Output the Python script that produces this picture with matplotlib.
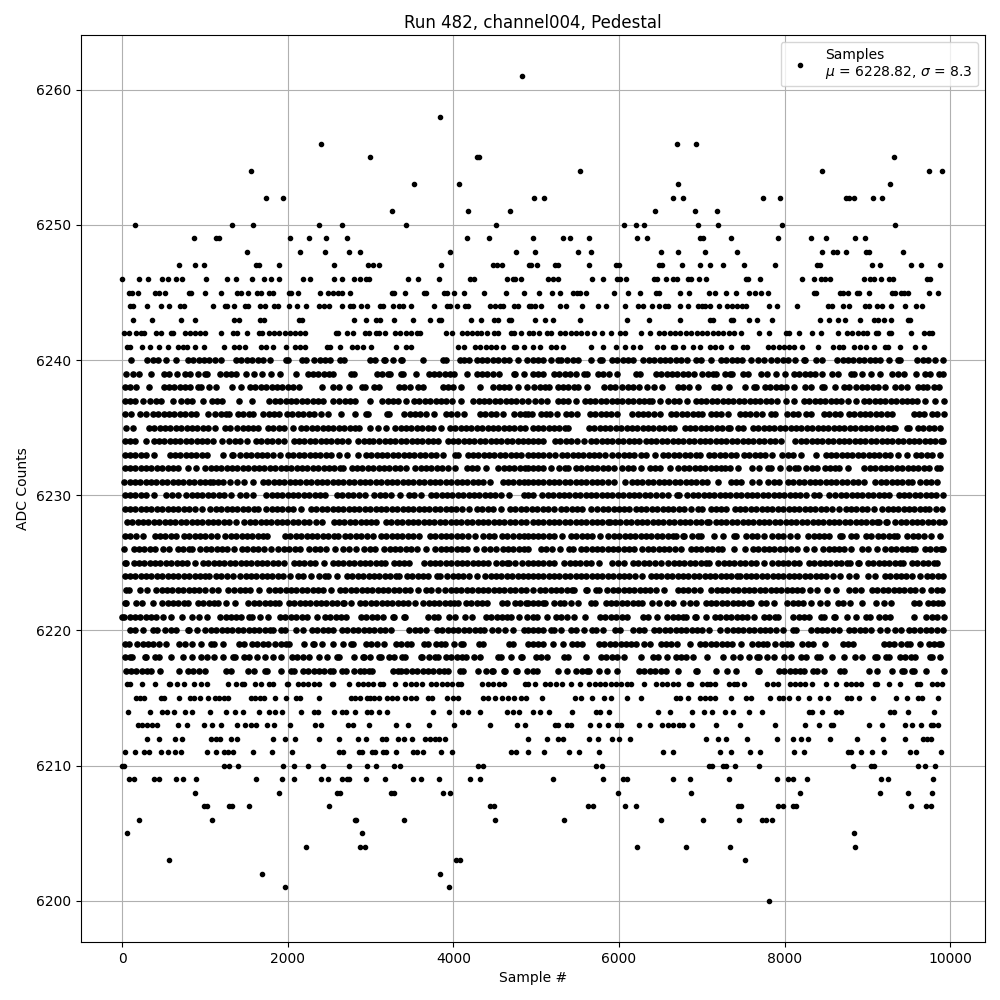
import matplotlib

matplotlib.use("Agg")
import matplotlib.pyplot as plt

# sample numbers, one list per ADC level
s6261 = [4832]
s6258 = [3843]
s6256 = [2396, 6702, 6932]
s6255 = [2999, 4281, 4309, 9319]
s6254 = [1552, 5533, 8456, 9745, 9898]
s6253 = [3529, 4072, 6706, 9271]
s6252 = [1733, 1938, 4978, 5099, 6654, 6774, 7739, 7944, 8740, 8776, 8837, 9066, 9175]
s6251 = [3256, 4181, 4687, 6437, 6919, 7185]
s6250 = [153, 1323, 1576, 2372, 2661, 3433, 4518, 6063, 6208, 6304, 6955, 7197, 7969, 9331]
s6249 = [864, 1130, 1166, 2022, 2251, 2456, 2721, 4169, 4434, 4966, 5327, 5412, 5641, 6219, 6340, 6980, 7016, 7354,
         7921, 8318, 8499, 8850, 8970]
s6248 = [1503, 2143, 2444, 2734, 2878, 3964, 4760, 4990, 5509, 5665, 6509, 6714, 7040, 7426, 8451, 8584, 8632, 8740,
         8982, 9018, 9428]
s6247 = [683, 876, 985, 1612, 1648, 1889, 2553, 2963, 3035, 3107, 3855, 4482, 4530, 4591, 4918, 4941, 5014, 5231, 5267,
         5641, 5966, 6002, 6486, 6522, 6762, 6980, 7100, 7257, 7510, 7884, 8391, 8427, 9054, 9150, 9524, 9645, 9874]
s6246 = [0, 201, 310, 478, 551, 647, 720, 1009, 1262, 1371, 1564, 1709, 1793, 1889, 2179, 2263, 2553, 2661, 2794, 2878,
         2939, 2987, 3457, 3578, 3831, 4205, 4253, 4652, 4724, 4748, 4820, 5146, 5207, 5267, 5677, 5809, 5973, 6009,
         6082, 6424, 6461, 6570, 6654, 6702, 6835, 6871, 6968, 7052, 7535, 7559, 7703, 8210, 8355, 8439, 8487, 8547,
         8957, 9030, 9078, 9162, 9259, 9307, 9718, 9754]
s6245 = [80, 117, 189, 394, 442, 515, 804, 828, 997, 1190, 1383, 1431, 1516, 1624, 1672, 1769, 1817, 2010, 2034, 2119,
         2384, 2492, 2541, 2601, 2661, 2746, 3264, 3288, 3421, 3650, 3674, 3891, 3927, 4012, 4133, 4374, 4639, 4856,
         5038, 5195, 5292, 5448, 5496, 5533, 5605, 5942, 6111, 6256, 6449, 6485, 6738, 6847, 7088, 7160, 7293, 7414,
         7571, 7643, 7715, 7800, 8355, 8379, 8668, 8704, 8765, 8873, 8897, 9018, 9295, 9331, 9404, 9440, 9488, 9745, 9850]
s6244 = [92, 129, 297, 466, 563, 695, 744, 1093, 1238, 1262, 1347, 1479, 1516, 1660, 1721, 1829, 1877, 2010, 2106, 2215,
         2372, 2432, 2504, 2649, 2746, 2782, 2890, 2951, 3119, 3156, 3276, 3349, 3397, 3493, 3771, 3927, 3964, 4048, 4145,
         4181, 4446, 4498, 4559, 4603, 4736, 4784, 4916, 4941, 4990, 5062, 5292, 5364, 5549, 5749, 5846, 6075, 6232, 6292,
         6401, 6485, 6558, 6594, 6738, 6835, 6955, 7004, 7040, 7100, 7209, 7305, 7366, 7426, 7486, 7535, 7812, 7908, 8149,
         8523, 8571, 8704, 8776, 8970, 9018, 9114, 9175, 9283, 9452, 9585, 9657]
s6243 = [129, 358, 708, 876, 1347, 1407, 1660, 1709, 2131, 2167, 2794, 2939, 3071, 3119, 3288, 3517, 3723, 3831, 3855,
         4217, 4338, 4494, 4542, 4675, 4699, 4990, 5110, 5207, 5533, 6099, 6365, 6738, 7100, 7136, 7354, 7378, 7571, 7667,
         7848, 8427, 8535, 8644, 8728, 8909, 9078, 9126, 9199, 9283, 9488, 9517]
s6242 = [25, 85, 170, 225, 260, 410, 470, 590, 620, 760, 820, 880, 945, 1005, 1196, 1340, 1390, 1510, 1654, 1695, 1775,
         1840, 1900, 1965, 2030, 2090, 2150, 2210, 2583, 2610, 2716, 2790, 2927, 2975, 3071, 3107, 3180, 3294, 3360, 3425,
         3490, 3555, 3600, 3909, 3985, 4102, 4165, 4225, 4290, 4335, 4410, 4488, 4540, 4693, 4735, 4814, 4915, 4955, 5035,
         5135, 5180, 5285, 5350, 5415, 5480, 5545, 5610, 5700, 5800, 5900, 6008, 6070, 6268, 6370, 6483, 6545, 6610, 6675,
         6740, 6805, 6870, 6935, 7000, 7065, 7130, 7195, 7260, 7325, 7390, 7467, 7690, 7812, 8010, 8050, 8172, 8334, 8439,
         8638, 8754, 8815, 8880, 8945, 8996, 9108, 9132, 9265, 9289, 9530, 9687, 9745, 9783]
s6241 = [60, 90, 237, 334, 442, 551, 677, 740, 786, 882, 985, 1226, 1352, 1415, 1485, 1678, 1740, 1823, 1974, 2088, 2150,
         2209, 2474, 2511, 2625, 2776, 2840, 2905, 3005, 3312, 3427, 3487, 4054, 4127, 4259, 4325, 4390, 4455, 4520, 4597,
         4730, 4754, 4850, 4955, 5043, 5176, 5240, 5329, 5665, 5809, 5966, 6075, 6171, 6256, 6454, 6527, 6648, 6672, 6774,
         6889, 6974, 7094, 7160, 7227, 7347, 7496, 7541, 7793, 7860, 7925, 7990, 8055, 8111, 8210, 8403, 8589, 8650, 8698,
         8842, 8910, 8976, 9078, 9205, 9241, 9397, 9572, 9687]
s6240 = [105, 303, 370, 435, 533, 655, 798, 860, 925, 990, 1055, 1120, 1196, 1377, 1440, 1505, 1570, 1635, 1700, 1783,
         1980, 2000, 2173, 2221, 2322, 2390, 2455, 2507, 2631, 2684, 2993, 3053, 3166, 3174, 3268, 3367, 3375, 3628, 3877,
         3910, 4078, 4131, 4193, 4279, 4345, 4410, 4475, 4540, 4605, 4670, 4774, 4894, 4955, 5020, 5085, 5177, 5257, 5297,
         5377, 5445, 5510, 5659, 5767, 5799, 5912, 5980, 6045, 6110, 6174, 6293, 6360, 6425, 6490, 6555, 6620, 6685, 6750,
         6816, 6925, 6990, 7106, 7227, 7295, 7360, 7425, 7490, 7590, 7682, 7745, 7830, 7910, 7975, 8040, 8130, 8230, 8240,
         8372, 8453, 8634, 8700, 8765, 8830, 8895, 8960, 9025, 9090, 9155, 9257, 9370, 9390, 9598, 9665, 9730, 9820, 9910]
s6239 = [50, 130, 199, 350, 508, 570, 665, 758, 825, 915, 995, 1027, 1184, 1250, 1315, 1380, 1498, 1590, 1687, 1799, 1912,
         2094, 2241, 2305, 2370, 2435, 2500, 2551, 2764, 2804, 3073, 3140, 3205, 3238, 3367, 3387, 3550, 3700, 3765, 3830,
         3895, 3960, 4010, 4169, 4279, 4345, 4410, 4475, 4545, 4734, 4742, 4854, 4955, 5020, 5087, 5215, 5280, 5345, 5410,
         5477, 5577, 5618, 5742, 5810, 5880, 5979, 6201, 6254, 6442, 6510, 6575, 6640, 6705, 6770, 6835, 6905, 7005, 7070,
         7135, 7167, 7279, 7345, 7368, 7496, 7557, 7710, 7790, 7892, 8000, 8110, 8175, 8240, 8305, 8370, 8453, 8573, 8642,
         8795, 8835, 8933, 9037, 9154, 9297, 9365, 9438, 9580, 9691, 9752, 9868, 9911]
s6238 = [30, 95, 171, 322, 500, 565, 630, 695, 760, 814, 914, 955, 1055, 1136, 1328, 1437, 1546, 1610, 1675, 1740, 1805,
         1870, 1935, 2000, 2065, 2141, 2412, 2543, 2623, 2734, 2894, 2935, 3045, 3106, 3338, 3405, 3470, 3568, 3638, 3869,
         3935, 4000, 4091, 4321, 4480, 4545, 4610, 4675, 4782, 4884, 4975, 5040, 5105, 5157, 5257, 5322, 5387, 5452, 5510,
         5610, 5819, 5885, 5949, 6039, 6105, 6170, 6235, 6334, 6422, 6523, 6713, 6774, 6847, 6948, 7144, 7208, 7328, 7518,
         7628, 7649, 7758, 7825, 7890, 7955, 8020, 8111, 8243, 8312, 8453, 8473, 8613, 8714, 8776, 8862, 8930, 8995, 9060,
         9125, 9216, 9335, 9400, 9477, 9610, 9675, 9719, 9807, 9859]
s6237 = [30, 95, 160, 252, 340, 405, 470, 613, 713, 780, 845, 975, 1087, 1150, 1204, 1407, 1568, 1779, 1845, 1910, 1975,
         2040, 2105, 2170, 2235, 2300, 2365, 2430, 2543, 2623, 2690, 2755, 2812, 2995, 3137, 3205, 3270, 3335, 3427, 3527,
         3590, 3655, 3720, 3785, 3850, 3915, 3980, 4091, 4239, 4305, 4370, 4435, 4500, 4565, 4630, 4695, 4760, 4825, 4895,
         4987, 5055, 5136, 5257, 5322, 5387, 5477, 5585, 5650, 5715, 5780, 5845, 5910, 5975, 6040, 6105, 6170, 6235, 6300,
         6365, 6402, 6500, 6595, 6660, 6725, 6825, 6925, 6990, 7055, 7120, 7185, 7250, 7315, 7380, 7445, 7510, 7575, 7640,
         7705, 7770, 7835, 7910, 8010, 8110, 8230, 8295, 8360, 8425, 8490, 8555, 8620, 8685, 8762, 8865, 8955, 9020,
         9085, 9150, 9215, 9280, 9345, 9410, 9475, 9540, 9598, 9696, 9809, 9920]
s6236 = [30, 111, 219, 292, 372, 437, 502, 567, 632, 697, 762, 827, 892, 1035, 1127, 1192, 1257, 1289, 1397, 1462, 1527,
         1578, 1706, 1771, 1836, 1900, 1992, 2057, 2122, 2187, 2252, 2317, 2402, 2492, 2641, 2806, 2944, 2965, 3198, 3226,
         3407, 3472, 3537, 3602, 3667, 3769, 3909, 3974, 4039, 4131, 4319, 4384, 4449, 4514, 4593, 4734, 4799, 4864, 4895,
         4945, 5055, 5120, 5169, 5254, 5356, 5421, 5497, 5646, 5711, 5776, 5841, 5906, 5979, 6159, 6224, 6289, 6354, 6419,
         6494, 6627, 6692, 6757, 6822, 6887, 6952, 7006, 7106, 7171, 7236, 7320, 7456, 7521, 7586, 7651, 7730, 7830, 7878,
         8030, 8095, 8160, 8252, 8322, 8473, 8538, 8603, 8666, 8774, 8839, 8904, 8969, 9034, 9099, 9164, 9229, 9297, 9558,
         9623, 9679, 9779, 9844, 9920]
s6235 = [42, 131, 323, 388, 453, 518, 583, 648, 713, 778, 843, 908, 973, 1038, 1116, 1244, 1297, 1389, 1454, 1519, 1584,
         1638, 1759, 1824, 1889, 1954, 2060, 2161, 2226, 2291, 2356, 2421, 2486, 2551, 2616, 2681, 2746, 2811, 2864, 2993,
         3086, 3186, 3298, 3363, 3428, 3493, 3558, 3623, 3688, 3749, 3849, 3957, 4022, 4087, 4152, 4217, 4282, 4347, 4412,
         4477, 4542, 4607, 4672, 4737, 4802, 4867, 4955, 5020, 5085, 5150, 5215, 5280, 5345, 5385, 5635, 5700, 5765, 5830,
         5895, 5960, 6025, 6090, 6155, 6220, 6285, 6350, 6415, 6480, 6545, 6610, 6663, 6791, 6856, 6921, 6986, 7051, 7116,
         7181, 7246, 7311, 7345, 7440, 7500, 7616, 7681, 7746, 7811, 7876, 7941, 8006, 8071, 8136, 8201, 8266, 8331, 8396,
         8461, 8526, 8591, 8656, 8721, 8786, 8851, 8916, 8981, 9046, 9111, 9176, 9241, 9306, 9337, 9477, 9498, 9610, 9675,
         9740, 9805, 9880]
s6234 = [30, 95, 160, 284, 380, 445, 510, 575, 640, 705, 770, 835, 900, 965, 1030, 1095, 1204, 1296, 1361, 1426, 1506,
         1618, 1683, 1748, 1813, 1878, 1960, 2072, 2137, 2202, 2267, 2332, 2397, 2462, 2527, 2592, 2657, 2724, 2852, 2917,
         2982, 3025, 3105, 3170, 3235, 3300, 3365, 3430, 3495, 3560, 3625, 3690, 3755, 3817, 3929, 3994, 4059, 4124, 4189,
         4254, 4319, 4384, 4449, 4514, 4579, 4644, 4709, 4774, 4839, 4895, 4955, 5020, 5087, 5227, 5292, 5357, 5422, 5487,
         5571, 5659, 5724, 5789, 5854, 5919, 5984, 6049, 6114, 6179, 6242, 6322, 6387, 6452, 6517, 6582, 6647, 6712, 6777,
         6842, 6907, 6972, 7037, 7102, 7167, 7232, 7297, 7362, 7427, 7492, 7557, 7622, 7687, 7752, 7817, 7882, 7950, 8130,
         8195, 8260, 8325, 8390, 8455, 8520, 8585, 8650, 8715, 8780, 8845, 8910, 8975, 9040, 9105, 9170, 9235, 9300, 9365,
         9430, 9495, 9560, 9625, 9690, 9755, 9820, 9885, 9911]
s6233 = [30, 95, 160, 225, 290, 386, 573, 638, 703, 768, 833, 898, 963, 1028, 1216, 1324, 1337, 1429, 1494, 1559, 1624,
         1689, 1754, 1819, 1912, 2004, 2069, 2134, 2199, 2264, 2329, 2394, 2459, 2524, 2623, 2716, 2844, 2944, 3009, 3074,
         3139, 3204, 3269, 3334, 3399, 3464, 3529, 3594, 3659, 3724, 3789, 3869, 4022, 4059, 4171, 4236, 4301, 4366, 4431,
         4496, 4561, 4626, 4691, 4756, 4821, 4895, 4955, 5020, 5085, 5150, 5224, 5308, 5373, 5438, 5503, 5568, 5633, 5698,
         5763, 5828, 5920, 5991, 6056, 6121, 6186, 6262, 6330, 6431, 6531, 6596, 6661, 6726, 6791, 6856, 6925, 6975, 7086,
         7151, 7216, 7281, 7346, 7408, 7508, 7573, 7638, 7703, 7768, 7850, 7970, 8035, 8100, 8200, 8374, 8493, 8558, 8623,
         8688, 8753, 8818, 8883, 8948, 9013, 9078, 9143, 9208, 9277, 9370, 9478, 9586, 9651, 9716, 9781, 9880]
s6232 = [30, 95, 160, 225, 290, 355, 420, 485, 550, 615, 673, 794, 895, 1003, 1068, 1133, 1198, 1263, 1328, 1393, 1458,
         1523, 1588, 1653, 1718, 1783, 1848, 1913, 1978, 2043, 2108, 2173, 2238, 2303, 2368, 2433, 2498, 2563, 2628, 2672,
         2772, 2837, 2902, 2967, 3032, 3097, 3162, 3227, 3292, 3357, 3427, 3540, 3605, 3670, 3735, 3800, 3865, 3930, 4018,
         4159, 4224, 4289, 4392, 4541, 4606, 4671, 4736, 4801, 4866, 4895, 4955, 5020, 5085, 5177, 5277, 5342, 5378, 5478,
         5543, 5608, 5673, 5738, 5803, 5868, 5940, 6039, 6104, 6169, 6262, 6370, 6435, 6500, 6615, 6716, 6781, 6846, 6911,
         6976, 7041, 7106, 7171, 7236, 7275, 7345, 7440, 7600, 7689, 7801, 7830, 7938, 8050, 8130, 8159, 8259, 8324, 8385,
         8485, 8550, 8613, 8654, 8765, 8963, 9028, 9093, 9158, 9223, 9288, 9353, 9418, 9483, 9548, 9613, 9678, 9739, 9839,
         9880]
s6231 = [20, 90, 155, 220, 285, 350, 415, 480, 545, 610, 675, 740, 805, 870, 935, 1000, 1065, 1096, 1156, 1221, 1297,
         1389, 1477, 1578, 1698, 1763, 1828, 1893, 1958, 2023, 2088, 2153, 2218, 2283, 2348, 2413, 2478, 2543, 2608, 2673,
         2738, 2803, 2868, 2933, 2998, 3063, 3128, 3193, 3258, 3323, 3388, 3453, 3518, 3583, 3648, 3713, 3778, 3843, 3908,
         3973, 4038, 4103, 4168, 4233, 4298, 4363, 4444, 4593, 4658, 4723, 4788, 4853, 4895, 4955, 5020, 5085, 5150, 5215,
         5280, 5345, 5410, 5475, 5540, 5605, 5670, 5735, 5800, 5865, 5940, 6071, 6153, 6218, 6283, 6348, 6413, 6478, 6543,
         6608, 6673, 6738, 6803, 6868, 6933, 6998, 7065, 7196, 7346, 7411, 7467, 7600, 7689, 7801, 7866, 7930, 8040, 8105,
         8170, 8235, 8300, 8365, 8430, 8495, 8560, 8625, 8690, 8755, 8820, 8885, 8955, 9095, 9160, 9225, 9290, 9355, 9420,
         9485, 9538, 9638, 9703, 9768, 9840]
s6230 = [30, 95, 160, 225, 290, 384, 533, 601, 671, 774, 839, 904, 969, 1034, 1099, 1164, 1229, 1309, 1425, 1490, 1578,
         1739, 1804, 1869, 1934, 1999, 2064, 2129, 2194, 2259, 2324, 2389, 2450, 2595, 2660, 2725, 2790, 2855, 2933, 3045,
         3110, 3175, 3246, 3357, 3459, 3524, 3608, 3728, 3793, 3858, 3923, 3988, 4053, 4118, 4183, 4248, 4313, 4378, 4443,
         4508, 4573, 4674, 4854, 4895, 4966, 5075, 5140, 5205, 5270, 5335, 5400, 5465, 5530, 5595, 5660, 5725, 5790, 5855,
         5920, 5985, 6050, 6115, 6180, 6245, 6310, 6375, 6440, 6523, 6593, 6696, 6725, 6825, 6890, 6955, 7020, 7085, 7150,
         7215, 7280, 7345, 7410, 7475, 7540, 7605, 7670, 7735, 7800, 7865, 7930, 7995, 8060, 8125, 8190, 8252, 8352, 8417,
         8533, 8613, 8678, 8743, 8808, 8873, 8938, 9003, 9068, 9133, 9198, 9257, 9376, 9441, 9506, 9571, 9636, 9701, 9766,
         9831, 9911]
s6229 = [30, 95, 160, 225, 290, 355, 420, 485, 550, 615, 680, 745, 810, 875, 960, 1067, 1132, 1197, 1262, 1327, 1392, 1457,
         1522, 1587, 1638, 1739, 1804, 1869, 1934, 1999, 2064, 2161, 2281, 2346, 2411, 2476, 2541, 2606, 2671, 2736, 2801,
         2866, 2931, 2996, 3061, 3126, 3191, 3256, 3321, 3386, 3451, 3516, 3581, 3646, 3711, 3776, 3841, 3906, 3971, 4036,
         4101, 4191, 4283, 4348, 4413, 4478, 4573, 4681, 4746, 4811, 4876, 4945, 5015, 5080, 5145, 5217, 5297, 5362, 5427,
         5492, 5557, 5659, 5739, 5804, 5869, 5934, 5999, 6061, 6123, 6201, 6266, 6331, 6396, 6461, 6526, 6591, 6656, 6721,
         6786, 6865, 6953, 7006, 7106, 7171, 7236, 7287, 7396, 7461, 7526, 7591, 7656, 7721, 7786, 7851, 7916, 7981, 8046,
         8111, 8176, 8241, 8306, 8371, 8436, 8501, 8566, 8654, 8734, 8799, 8864, 8929, 8994, 9076, 9176, 9241, 9306, 9371,
         9436, 9501, 9566, 9631, 9696, 9739, 9832, 9900]
s6228 = [58, 123, 188, 253, 318, 383, 448, 513, 578, 643, 708, 773, 838, 903, 968, 1033, 1098, 1163, 1228, 1293, 1377,
         1477, 1542, 1607, 1672, 1737, 1802, 1867, 1932, 1997, 2062, 2127, 2192, 2257, 2342, 2412, 2555, 2620, 2685, 2750,
         2815, 2880, 2945, 3010, 3065, 3186, 3251, 3316, 3381, 3446, 3511, 3576, 3641, 3706, 3771, 3836, 3901, 3966, 4031,
         4096, 4161, 4226, 4291, 4356, 4421, 4486, 4551, 4616, 4681, 4746, 4811, 4876, 4955, 5020, 5085, 5150, 5215, 5280,
         5345, 5410, 5475, 5540, 5605, 5670, 5735, 5800, 5865, 5891, 5951, 6016, 6081, 6146, 6211, 6276, 6341, 6406, 6471,
         6536, 6601, 6666, 6731, 6796, 6861, 6926, 6991, 7056, 7086, 7166, 7231, 7296, 7361, 7426, 7491, 7556, 7621, 7686,
         7751, 7816, 7881, 7946, 8011, 8076, 8141, 8206, 8271, 8336, 8401, 8466, 8531, 8596, 8661, 8726, 8791, 8856, 8921,
         8986, 9051, 9116, 9136, 9225, 9237, 9337, 9402, 9467, 9532, 9597, 9662, 9727, 9792, 9857, 9920]
s6227 = [30, 95, 170, 251, 392, 457, 522, 587, 653, 746, 811, 876, 941, 1006, 1071, 1148, 1248, 1313, 1378, 1443, 1508,
         1573, 1638, 1703, 1751, 1968, 2033, 2098, 2163, 2228, 2293, 2358, 2423, 2488, 2553, 2603, 2691, 2756, 2821, 2886,
         2951, 3025, 3125, 3190, 3255, 3320, 3385, 3450, 3515, 3588, 3716, 3781, 3846, 3911, 3976, 4041, 4106, 4171, 4263,
         4359, 4424, 4489, 4581, 4651, 4721, 4786, 4851, 4895, 4955, 5020, 5085, 5150, 5215, 5317, 5417, 5482, 5547, 5612,
         5677, 5771, 5871, 5936, 6001, 6066, 6131, 6196, 6261, 6326, 6391, 6456, 6521, 6586, 6651, 6687, 6776, 6784, 6885,
         6950, 6994, 7144, 7257, 7388, 7408, 7536, 7601, 7666, 7750, 7850, 7915, 7980, 8063, 8149, 8283, 8348, 8413, 8478,
         8533, 8662, 8694, 8806, 8855, 8978, 9042, 9125, 9190, 9255, 9320, 9358, 9478, 9543, 9608, 9686, 9768, 9878]
s6226 = [20, 138, 203, 268, 333, 398, 492, 567, 673, 738, 803, 846, 946, 1011, 1076, 1141, 1206, 1271, 1357, 1449, 1514,
         1579, 1644, 1709, 1799, 1887, 1952, 2017, 2082, 2149, 2261, 2326, 2391, 2456, 2571, 2663, 2744, 2826, 2924, 2989,
         3053, 3166, 3231, 3296, 3361, 3426, 3491, 3556, 3668, 3780, 3845, 3910, 3975, 4040, 4105, 4170, 4271, 4372, 4437,
         4512, 4593, 4658, 4723, 4788, 4853, 4895, 5055, 5120, 5185, 5285, 5400, 5448, 5538, 5603, 5668, 5733, 5798, 5863,
         5928, 5993, 6058, 6123, 6182, 6282, 6347, 6412, 6477, 6542, 6607, 6672, 6752, 6864, 6929, 6994, 7059, 7124, 7189,
         7239, 7388, 7518, 7616, 7681, 7746, 7811, 7876, 7941, 8006, 8071, 8151, 8259, 8353, 8465, 8530, 8595, 8660, 8714,
         8805, 8935, 9000, 9116, 9216, 9281, 9346, 9411, 9476, 9541, 9579, 9691, 9756, 9821, 9886, 9911]
s6225 = [30, 50, 138, 203, 268, 333, 398, 463, 528, 593, 658, 723, 788, 875, 975, 1040, 1105, 1170, 1235, 1300, 1365, 1430,
         1495, 1560, 1625, 1690, 1755, 1820, 1885, 1960, 2072, 2137, 2202, 2267, 2332, 2434, 2543, 2608, 2673, 2738, 2803,
         2868, 2933, 2998, 3063, 3128, 3178, 3278, 3343, 3408, 3467, 3648, 3713, 3778, 3843, 3908, 3973, 4038, 4103, 4168,
         4233, 4298, 4363, 4412, 4520, 4585, 4650, 4674, 4744, 4834, 4895, 4955, 5020, 5085, 5150, 5217, 5337, 5402, 5467,
         5532, 5597, 5662, 5759, 5919, 5984, 6061, 6169, 6234, 6299, 6364, 6429, 6503, 6595, 6660, 6725, 6790, 6855, 6920,
         6985, 7050, 7086, 7198, 7263, 7328, 7393, 7458, 7523, 7588, 7649, 7751, 7850, 7915, 7980, 8045, 8110, 8171, 8291,
         8356, 8421, 8486, 8551, 8616, 8681, 8746, 8794, 8886, 8895, 9003, 9068, 9133, 9198, 9263, 9328, 9393, 9429, 9538,
         9603, 9668, 9733, 9798, 9840]
s6224 = [30, 95, 160, 225, 290, 355, 420, 485, 550, 615, 680, 745, 810, 875, 940, 1005, 1055, 1135, 1200, 1265, 1337, 1425,
         1490, 1555, 1620, 1685, 1750, 1815, 1880, 1945, 2032, 2120, 2185, 2281, 2382, 2447, 2491, 2593, 2716, 2781, 2846,
         2911, 2976, 3041, 3106, 3171, 3236, 3301, 3347, 3439, 3504, 3569, 3634, 3697, 3797, 3841, 3920, 3990, 4055, 4120,
         4185, 4283, 4384, 4449, 4514, 4579, 4644, 4709, 4774, 4839, 4895, 4955, 5020, 5085, 5150, 5215, 5280, 5345, 5410,
         5475, 5540, 5605, 5670, 5735, 5800, 5865, 5930, 5995, 6060, 6125, 6190, 6282, 6382, 6447, 6512, 6577, 6642, 6707,
         6772, 6837, 6902, 6967, 7032, 7097, 7162, 7227, 7292, 7357, 7422, 7456, 7528, 7593, 7658, 7723, 7788, 7853, 7918,
         7983, 8048, 8113, 8178, 8243, 8308, 8373, 8438, 8503, 8585, 8673, 8774, 8865, 9009, 9094, 9208, 9273, 9338, 9403,
         9468, 9533, 9631, 9719, 9784, 9849, 9911]
s6223 = [42, 78, 211, 304, 412, 477, 542, 607, 672, 737, 802, 867, 932, 995, 1087, 1152, 1277, 1357, 1422, 1487, 1550,
         1648, 1779, 1844, 1909, 1974, 2039, 2104, 2169, 2234, 2299, 2364, 2429, 2523, 2631, 2696, 2761, 2826, 2891, 2956,
         3021, 3086, 3151, 3216, 3281, 3346, 3411, 3476, 3568, 3668, 3733, 3809, 3901, 3966, 4031, 4096, 4161, 4226, 4291,
         4356, 4421, 4486, 4551, 4616, 4681, 4746, 4811, 4876, 4955, 5043, 5108, 5173, 5238, 5303, 5368, 5433, 5458, 5598,
         5618, 5719, 5759, 5859, 5924, 5989, 6054, 6119, 6184, 6249, 6314, 6379, 6444, 6543, 6707, 6772, 6837, 6902, 6982,
         7114, 7179, 7244, 7309, 7374, 7439, 7504, 7569, 7634, 7699, 7764, 7829, 7894, 7959, 8024, 8089, 8154, 8211, 8311,
         8392, 8513, 8614, 8782, 8847, 8915, 9055, 9120, 9185, 9250, 9315, 9380, 9445, 9510, 9575, 9659, 9771, 9836, 9900]
s6222 = [30, 50, 171, 236, 372, 484, 549, 614, 679, 744, 794, 914, 979, 1044, 1109, 1156, 1256, 1365, 1525, 1590, 1655,
         1720, 1785, 1850, 1900, 2012, 2077, 2142, 2207, 2272, 2337, 2402, 2467, 2532, 2597, 2662, 2684, 2766, 2872, 2937,
         3002, 3067, 3132, 3197, 3262, 3327, 3392, 3457, 3536, 3636, 3701, 3766, 3831, 3896, 3961, 4002, 4060, 4151, 4216,
         4281, 4346, 4404, 4584, 4653, 4741, 4806, 4871, 4895, 4955, 5020, 5085, 5104, 5216, 5281, 5337, 5416, 5508, 5659,
         5711, 5839, 5904, 5969, 6034, 6099, 6164, 6229, 6282, 6392, 6485, 6583, 6652, 6766, 6852, 6925, 7046, 7111, 7176,
         7241, 7306, 7371, 7436, 7501, 7566, 7589, 7710, 7775, 7870, 8030, 8095, 8160, 8225, 8312, 8420, 8513, 8642, 8707,
         8794, 8933, 9106, 9196, 9285, 9558, 9618, 9726, 9791, 9856, 9900]
s6221 = [0, 28, 90, 155, 220, 285, 350, 415, 492, 593, 728, 842, 923, 1025, 1184, 1249, 1314, 1379, 1437, 1537, 1566, 1666,
         1759, 1907, 1972, 2037, 2102, 2167, 2233, 2352, 2450, 2515, 2580, 2645, 2704, 2884, 2949, 3014, 3079, 3150, 3274,
         3286, 3407, 3415, 3696, 3761, 3817, 3949, 4018, 4142, 4227, 4392, 4457, 4522, 4587, 4652, 4694, 4796, 4884, 4955,
         5007, 5134, 5237, 5302, 5367, 5450, 5588, 5770, 5835, 5900, 5965, 6030, 6100, 6290, 6350, 6461, 6583, 6648, 6713,
         6778, 6804, 6918, 6925, 7046, 7158, 7223, 7288, 7353, 7418, 7483, 7548, 7628, 7749, 7814, 7879, 7917, 8103, 8168,
         8233, 8292, 8433, 8473, 8593, 8613, 8754, 8855, 8987, 9035, 9144, 9209, 9277, 9560, 9711, 9776, 9841, 9920]
s6220 = [90, 155, 251, 372, 424, 520, 585, 653, 794, 802, 904, 1007, 1072, 1137, 1202, 1267, 1332, 1397, 1462, 1527, 1592,
         1657, 1722, 1787, 1827, 1919, 1968, 2100, 2181, 2293, 2358, 2423, 2488, 2543, 2655, 2720, 2785, 2850, 2915, 2980,
         3045, 3110, 3175, 3246, 3467, 3532, 3597, 3668, 3801, 3866, 3931, 3996, 4061, 4126, 4191, 4256, 4321, 4372, 4472,
         4537, 4621, 4724, 4854, 4895, 4955, 5020, 5087, 5176, 5209, 5295, 5417, 5482, 5571, 5679, 5719, 5809, 5947, 6012,
         6173, 6238, 6302, 6422, 6487, 6552, 6617, 6682, 6747, 6812, 6877, 6942, 7007, 7086, 7217, 7307, 7372, 7437, 7502,
         7567, 7632, 7697, 7762, 7827, 7892, 7983, 8103, 8135, 8320, 8385, 8450, 8515, 8580, 8654, 8774, 8839, 8904, 8969,
         9044, 9148, 9229, 9337, 9398, 9498, 9558, 9638, 9703, 9768, 9833, 9911]
s6219 = [30, 78, 183, 248, 313, 378, 443, 533, 693, 758, 850, 953, 1075, 1108, 1214, 1409, 1469, 1566, 1631, 1696, 1759,
         1851, 1916, 1981, 2020, 2191, 2301, 2314, 2408, 2551, 2663, 2764, 2784, 2944, 3009, 3074, 3166, 3306, 3371, 3436,
         3487, 3648, 3689, 3789, 3854, 3902, 4008, 4090, 4119, 4311, 4352, 4673, 4722, 4905, 4955, 5020, 5085, 5197, 5327,
         5430, 5495, 5558, 5758, 5823, 5888, 5953, 6018, 6083, 6148, 6200, 6302, 6374, 6503, 6568, 6633, 6704, 6862, 6977,
         7042, 7107, 7172, 7237, 7302, 7367, 7467, 7608, 7673, 7738, 7790, 7888, 7962, 8027, 8070, 8211, 8276, 8345, 8487,
         8701, 8766, 8826, 9196, 9261, 9317, 9409, 9474, 9518, 9636, 9738, 9803, 9868, 9890]
s6218 = [30, 95, 123, 279, 288, 392, 444, 587, 732, 840, 955, 1020, 1108, 1214, 1337, 1365, 1473, 1538, 1630, 1721, 1827,
         1920, 2052, 2117, 2182, 2261, 2382, 2474, 2595, 2623, 2794, 2904, 2925, 2999, 3105, 3126, 3218, 3286, 3374, 3419,
         3608, 3616, 3708, 3773, 3817, 3909, 3974, 4039, 4104, 4151, 4251, 4324, 4540, 4573, 4691, 4814, 4834, 4995, 5060,
         5128, 5337, 5385, 5604, 5779, 5844, 5909, 5974, 6061, 6268, 6410, 6475, 6575, 6684, 6749, 6814, 6897, 7064, 7254,
         7379, 7458, 7571, 7669, 7689, 7787, 7872, 7990, 8070, 8202, 8252, 8392, 8423, 8571, 8716, 8854, 8939, 9095, 9116,
         9225, 9257, 9390, 9455, 9520, 9567, 9759, 9779, 9874]
s6217 = [42, 107, 172, 237, 302, 344, 454, 683, 794, 859, 924, 995, 1256, 1317, 1517, 1590, 1726, 1751, 1919, 2040,
         2080, 2181, 2246, 2311, 2376, 2441, 2506, 2543, 2655, 2704, 2804, 2869, 2925, 2975, 3023, 3266, 3337, 3367, 3432,
         3497, 3562, 3627, 3692, 3757, 3822, 3887, 3930, 4078, 4111, 4301, 4390, 4472, 4480, 4605, 4621, 4754, 4766, 4893,
         4955, 5007, 5267, 5367, 5486, 5551, 5616, 5643, 5762, 5850, 5979, 6241, 6306, 6371, 6436, 6501, 6563, 6706, 6925,
         6945, 7176, 7305, 7409, 7672, 7689, 7930, 7995, 8060, 8125, 8190, 8232, 8340, 8385, 8471, 8662, 8714, 9015, 9116,
         9295, 9418, 9438, 9538, 9558, 9700, 9922]
s6216 = [58, 90, 237, 392, 565, 573, 659, 744, 866, 955, 1021, 1274, 1377, 1442, 1477, 1610, 1679, 1769, 1821, 1988, 2000,
         2120, 2185, 2250, 2315, 2382, 2543, 2535, 2734, 2844, 2909, 2974, 3025, 3113, 3146, 3300, 3419, 3484, 3549, 3616,
         3728, 3793, 3858, 3923, 3988, 4053, 4091, 4351, 4416, 4481, 4546, 4613, 4866, 4895, 4983, 5107, 5172, 5237, 5317,
         5417, 5530, 5639, 5704, 5769, 5834, 5899, 5964, 6029, 6094, 6141, 6302, 6451, 6516, 6581, 6646, 6716, 6844, 6865,
         7005, 7066, 7096, 7156, 7323, 7388, 7428, 7510, 7790, 7855, 7918, 8058, 8123, 8188, 8240, 8334, 8503, 8624, 8734,
         8799, 8864, 8915, 9096, 9116, 9259, 9388, 9598, 9639, 9779, 9844, 9900]
s6215 = [165, 213, 261, 466, 502, 683, 816, 864, 937, 1033, 1118, 1166, 1226, 1274, 1552, 1600, 1660, 1709, 1841, 1978,
         2094, 2143, 2372, 2758, 2818, 2878, 2951, 2999, 3047, 3107, 3204, 3264, 3324, 3421, 3493, 3554, 3698, 3747, 3928,
         4000, 4060, 4362, 4422, 4506, 4591, 4663, 4736, 4820, 4880, 5074, 5472, 5544, 5677, 5822, 5906, 6091, 6268, 6690,
         6738, 6835, 6980, 7040, 7100, 7160, 7354, 7535, 7595, 7825, 7933, 7981, 8053, 8162, 8295, 8427, 8523, 8753, 8801,
         8897, 9066, 9344, 9472, 9609, 9657, 9850]
s6214 = [68, 334, 478, 539, 623, 756, 840, 1057, 1250, 1359, 1455, 1648, 1769, 1841, 1934, 2155, 2312, 2360, 2553, 2661,
         2698, 2806, 2951, 3011, 3107, 3204, 3759, 3952, 4109, 4181, 4326, 4652, 4724, 4796, 4966, 5050, 5159, 5436, 5725,
         5774, 5882, 6473, 6618, 6883, 7028, 7124, 7281, 7378, 7571, 7728, 8295, 8331, 8451, 8620, 8680, 9271, 9319, 9488,
         9802]
s6213 = [189, 237, 297, 358, 418, 671, 780, 985, 1081, 1190, 1383, 1479, 1552, 1612, 1745, 1829, 2022, 2324, 2396, 2722,
         2782, 2975, 3312, 3457, 3711, 4012, 4446, 4772, 4868, 5231, 5267, 5376, 5424, 5653, 5762, 5870, 5979, 6027, 6244,
         6377, 6521, 6594, 6654, 6726, 6775, 6883, 7172, 7462, 7884, 8246, 8415, 8559, 8584, 9018, 9175, 9452, 9536, 9645,
         9766, 9790, 9850]
s6212 = [297, 442, 635, 720, 1069, 1130, 1178, 1310, 1383, 1817, 1962, 2082, 2372, 2613, 2854, 2939, 3132, 3192, 3336,
         3409, 3505, 3662, 3723, 3783, 3831, 3903, 4905, 5134, 5267, 5327, 5641, 5749, 5919, 6003, 6135, 7054, 7198, 7293,
         7547, 7908, 8101, 8197, 8282, 8547, 8873, 9187, 9452, 9669, 9718, 9766]
s6211 = [32, 153, 261, 322, 466, 551, 635, 708, 1021, 1130, 1226, 1274, 1335, 1576, 1805, 2046, 2613, 2673, 2866, 2902,
         3023, 3059, 3144, 3192, 3312, 3517, 3566, 3638, 3855, 3988, 4700, 4760, 4905, 5098, 5400, 5520, 5762, 6534, 6654,
         7221, 7354, 7583, 7703, 8113, 8234, 8765, 8801, 8921, 9054, 9199, 9512, 9585, 9886]
s6210 = [0, 28, 1226, 1286, 1395, 1938, 2070, 2239, 2420, 2734, 2951, 3071, 3288, 3361, 4301, 4362, 5725, 5798, 7088,
         7124, 7257, 7293, 7401, 7691, 8825, 9042, 9078, 9609, 9693, 9814]
s6209 = [80, 141, 382, 442, 647, 732, 888, 1612, 1925, 2070, 2396, 2492, 2661, 2710, 2734, 2939, 3180, 3517, 3614, 3831,
         4205, 4326, 5207, 5809, 6051, 6100, 6654, 6859, 7330, 7908, 8041, 8101, 8270, 9162, 9247, 9790]
s6208 = [876, 1889, 2589, 2625, 3252, 3288, 3879, 3964, 5991, 6871, 8186, 9150, 9488, 9778]
s6207 = [985, 1021, 1286, 1322, 1527, 2504, 4446, 4494, 5629, 5690, 6075, 6208, 7438, 7474, 7920, 7981, 8101, 8137, 9524,
         9706, 9766]
s6206 = [201, 1081, 2806, 2822, 3409, 4506, 5339, 6509, 7016, 7450, 7728, 7776, 7848]
s6205 = [56, 2902, 8838]
s6204 = [2215, 2878, 2927, 6220, 6811, 7342, 8850]
s6203 = [563, 4036, 4084, 7522]
s6202 = [1684, 3843]
s6201 = [1962, 3952]
s6200 = [7812]

sparse_levels = [6261, 6258, 6256, 6255, 6254, 6253, 6252, 6251, 6250, 6249, 6248, 6247, 6246, 6245, 6244, 6243, 6242,
                 6241, 6216, 6215, 6214, 6213, 6212, 6211, 6210, 6209, 6208, 6207, 6206, 6205, 6204, 6203, 6202, 6201,
                 6200]
sparse_rows = [s6261, s6258, s6256, s6255, s6254, s6253, s6252, s6251, s6250, s6249, s6248, s6247, s6246, s6245, s6244,
               s6243, s6242, s6241, s6216, s6215, s6214, s6213, s6212, s6211, s6210, s6209, s6208, s6207, s6206, s6205,
               s6204, s6203, s6202, s6201, s6200]
dense_levels = [6240, 6239, 6238, 6237, 6236, 6235, 6234, 6233, 6232, 6231, 6230, 6229, 6228, 6227, 6226, 6225, 6224,
                6223, 6222, 6221, 6220, 6219, 6218, 6217]
dense_rows = [s6240, s6239, s6238, s6237, s6236, s6235, s6234, s6233, s6232, s6231, s6230, s6229, s6228, s6227, s6226,
              s6225, s6224, s6223, s6222, s6221, s6220, s6219, s6218, s6217]

fig, ax = plt.subplots(figsize=(10, 10))
ax.plot([x for row in sparse_rows for x in row],
        [level for level, row in zip(sparse_levels, sparse_rows) for _ in row],
        "k.", label="Samples\n$\\mu$ = 6228.82, $\\sigma$ = 8.3")
# fewer points than the original here, so slightly fatter dots keep the rows solid
ax.plot([x for row in dense_rows for x in row],
        [level for level, row in zip(dense_levels, dense_rows) for _ in row],
        "k.", markersize=7.5)
ax.set_title("Run 482, channel004, Pedestal", pad=5)
ax.set_xlabel("Sample #")
ax.set_ylabel("ADC Counts")
ax.grid(True)
ax.legend(loc="upper right")
fig.subplots_adjust(left=0.081, right=0.985, top=0.965, bottom=0.058)
fig.savefig("out.png", dpi=100)
